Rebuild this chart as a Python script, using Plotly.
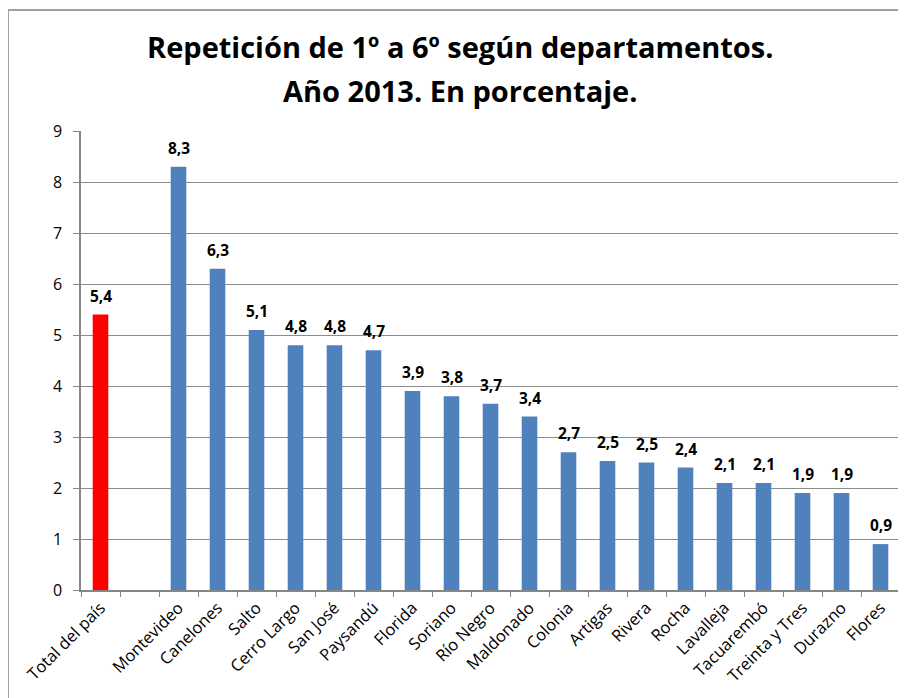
import plotly.graph_objects as go

categories = ["Total del país", " ", "Montevideo", "Canelones", "Salto", "Cerro Largo",
              "San José", "Paysandú", "Florida", "Soriano", "Río Negro", "Maldonado",
              "Colonia", "Artigas", "Rivera", "Rocha", "Lavalleja", "Tacuarembó",
              "Treinta y Tres", "Durazno", "Flores"]
values = [5.4, None, 8.3, 6.3, 5.1, 4.8, 4.8, 4.7, 3.9, 3.8, 3.65, 3.4,
          2.7, 2.53, 2.5, 2.4, 2.1, 2.1, 1.9, 1.9, 0.9]
labels = ["5,4", "", "8,3", "6,3", "5,1", "4,8", "4,8", "4,7", "3,9", "3,8", "3,7", "3,4",
          "2,7", "2,5", "2,5", "2,4", "2,1", "2,1", "1,9", "1,9", "0,9"]
bar_colors = ["#FF0000"] + ["#4F81BD"] * (len(categories) - 1)

title_line1 = "Repetición de 1º a 6º según departamentos."
title_line2 = "Año 2013. En porcentaje."

FONT = "Open Sans"

# page body has an 8px margin; figure is sized/offset to compensate
fig = go.Figure(go.Bar(
    x=categories, y=values,
    marker=dict(color=bar_colors, line=dict(width=0)),
    cliponaxis=False,
))

for cat, val, lab in zip(categories, values, labels):
    if val is None:
        continue
    fig.add_annotation(x=cat, y=val, text=lab, showarrow=False,
                       xanchor="center", yanchor="middle", yshift=19,
                       font=dict(family=FONT, size=15.5, color="#000000", weight="bold"))

fig.update_layout(
    width=898, height=690,
    margin=dict(l=73, r=6, t=123, b=108, autoexpand=False),
    paper_bgcolor="white", plot_bgcolor="white",
    bargap=0.6,
    showlegend=False,
    font=dict(family=FONT, size=15, color="#000000"),
)

fig.update_xaxes(
    type="category", tickangle=-45, tickson="boundaries",
    ticks="outside", ticklen=5, tickcolor="#868686",
    showline=True, linecolor="#868686", linewidth=1.5,
    showgrid=False, tickfont=dict(family=FONT, size=16.5, color="#000000"),
    automargin=False,
)
fig.update_yaxes(
    range=[0, 9], dtick=1, ticks="outside", ticklen=6, tickcolor="#868686",
    showline=True, linecolor="#868686", linewidth=1.5,
    showgrid=True, gridcolor="#8C8C8C", gridwidth=1,
    tickfont=dict(family=FONT, size=16, color="#000000"),
    ticklabelstandoff=8,
    zeroline=False, automargin=False,
)

fig.add_annotation(text=title_line1, xref="paper", yref="paper",
                   x=(460 - 81) / 819, y=(590 - 47) / 459, showarrow=False,
                   xanchor="center", yanchor="middle",
                   font=dict(family=FONT, size=29, color="#000000", weight="bold"))
fig.add_annotation(text=title_line2, xref="paper", yref="paper",
                   x=(460 - 81) / 819, y=(590 - 90) / 459, showarrow=False,
                   xanchor="center", yanchor="middle",
                   font=dict(family=FONT, size=29, color="#000000", weight="bold"))

fig.add_shape(type="rect", xref="paper", yref="paper",
              x0=(8 - 81) / 819, x1=1.02, y0=-0.4, y1=(590 - 10) / 459,
              line=dict(color="#A0A0A0", width=2), fillcolor="rgba(0,0,0,0)", layer="below")

fig.write_html("out.html")
